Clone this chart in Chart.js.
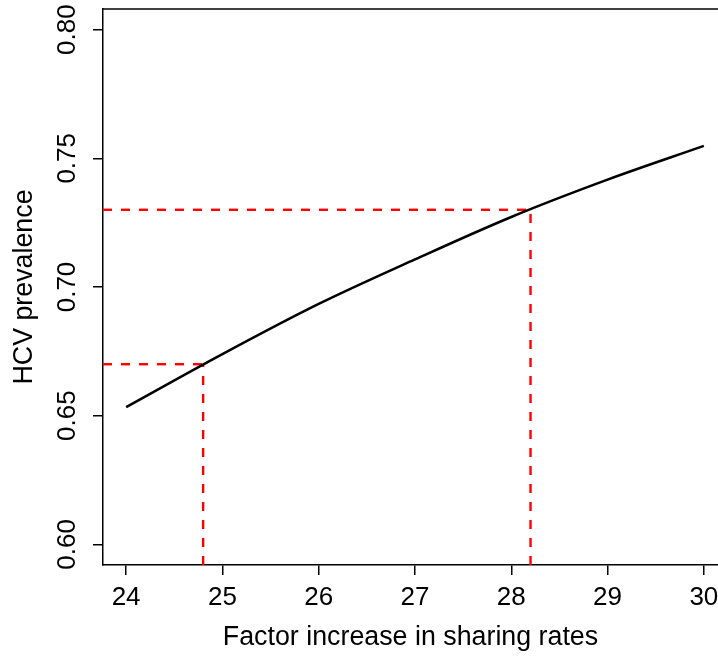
<!DOCTYPE html>
<html>
<head>
<meta charset="utf-8">
<script src="https://cdn.jsdelivr.net/npm/chart.js@4"></script>
<style>
html,body{margin:0;padding:0;background:#fff;}
canvas{display:block;}
</style>
</head>
<body>
<canvas id="c" width="718" height="656"></canvas>
<script>
// Data
const sharingFactor = [24, 25, 26, 27, 28, 29, 30];
const hcvPrevalence = [0.6533, 0.6739, 0.6934, 0.7107, 0.7272, 0.7417, 0.7548];
const targetFactor = [24.8, 28.2];
const targetPrevalence = [0.67, 0.73];
const xTickValues = [24, 25, 26, 27, 28, 29, 30];
const yTickValues = [0.60, 0.65, 0.70, 0.75, 0.80];

const X_MIN = 23.76, X_MAX = 30.147, Y_MIN = 0.592, Y_MAX = 0.808;

const curve = sharingFactor.map((x, i) => ({x: x, y: hcvPrevalence[i]}));
const guideStyle = {
  borderColor: '#ff0000',
  borderWidth: 2.4,
  borderDash: [9, 9],
  pointRadius: 0,
  tension: 0,
  fill: false
};
const guideSets = [];
targetFactor.forEach((fx, i) => {
  guideSets.push(Object.assign({data: [{x: X_MIN, y: targetPrevalence[i]}, {x: fx, y: targetPrevalence[i]}]}, guideStyle));
  guideSets.push(Object.assign({data: [{x: fx, y: Y_MIN}, {x: fx, y: targetPrevalence[i]}]}, guideStyle));
});

const boxPlugin = {
  id: 'box',
  afterDraw(chart) {
    const {ctx, chartArea} = chart;
    ctx.save();
    ctx.strokeStyle = '#000';
    ctx.lineWidth = 1.5;
    ctx.beginPath();
    ctx.moveTo(chartArea.left, chartArea.top);
    ctx.lineTo(chartArea.right + 2, chartArea.top);
    ctx.stroke();
    ctx.restore();
  }
};

const font = {family: '"Liberation Sans", Arial, Helvetica, sans-serif', size: 26};
const titleFont = {family: '"Liberation Sans", Arial, Helvetica, sans-serif', size: 26.8};
const noPad = s => { s.paddingTop = 0; s.paddingBottom = 0; s.paddingLeft = 0; s.paddingRight = 0; };

new Chart(document.getElementById('c'), {
  type: 'line',
  data: {
    datasets: [
      {
        data: curve,
        borderColor: '#000',
        borderWidth: 2.5,
        pointRadius: 0,
        cubicInterpolationMode: 'monotone',
        fill: false
      },
      ...guideSets
    ]
  },
  options: {
    responsive: false,
    animation: false,
    devicePixelRatio: 1,
    layout: {padding: {top: 9, right: 0, left: 0, bottom: 0}},
    plugins: {legend: {display: false}, tooltip: {enabled: false}},
    scales: {
      x: {
        type: 'linear',
        min: X_MIN, max: X_MAX,
        afterBuildTicks: s => { s.ticks = xTickValues.map(v => ({value: v})); },
        afterFit: s => { s.height = 91; noPad(s); },
        grid: {drawOnChartArea: false, tickLength: 10, color: '#000', lineWidth: 1.5},
        border: {display: true, color: '#000', width: 1.5},
        ticks: {color: '#000', font: font, padding: 7, maxRotation: 0, callback: v => String(v)},
        title: {display: true, text: 'Factor increase in sharing rates', color: '#000', font: titleFont, padding: {top: 8, bottom: 2}}
      },
      y: {
        type: 'linear',
        min: Y_MIN, max: Y_MAX,
        afterBuildTicks: s => { s.ticks = yTickValues.map(v => ({value: v})); },
        afterFit: s => { s.width = 103; noPad(s); },
        grid: {drawOnChartArea: false, tickLength: 10, color: '#000', lineWidth: 1.5},
        border: {display: true, color: '#000', width: 1.5},
        ticks: {color: '#000', font: font, padding: 0, crossAlign: 'center', minRotation: 90, maxRotation: 90, callback: v => v.toFixed(2)},
        title: {display: true, text: 'HCV prevalence', color: '#000', font: titleFont, padding: {top: 9, bottom: 4}}
      }
    }
  },
  plugins: [boxPlugin]
});
</script>
</body>
</html>
